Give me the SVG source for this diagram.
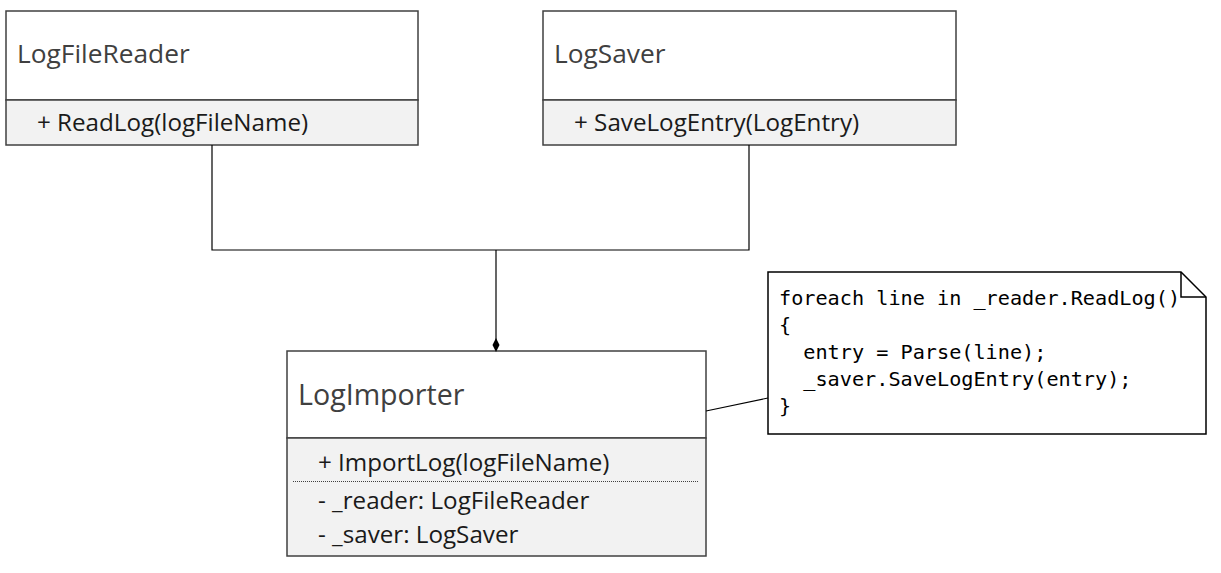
<svg xmlns="http://www.w3.org/2000/svg" width="1221" height="573" viewBox="0 0 1221 573">
<style>
.box{fill:#ffffff;stroke:#404040;stroke-width:1.5}
.comp{fill:#f2f2f2;stroke:#404040;stroke-width:1.5}
.title{font-family:"Open Sans",sans-serif;font-size:26.3px;fill:#404040}
.big{font-size:28.6px}
.member{font-family:"Open Sans",sans-serif;font-size:24.2px;fill:#1a1a1a}
.code{font-family:"DejaVu Sans Mono","Liberation Mono",monospace;font-size:20.2px;fill:#000000}
.conn{fill:none;stroke:#000000;stroke-width:1.2}
</style>
<rect width="1221" height="573" fill="#ffffff"/>
<g id="LogFileReader">
<rect class="box" x="6" y="11" width="412" height="89"/>
<rect class="comp" x="6" y="100" width="412" height="45"/>
<text class="title" x="17" y="63">LogFileReader</text>
<text class="member" x="37" y="131">+ ReadLog(logFileName)</text>
</g>
<g id="LogSaver">
<rect class="box" x="543" y="11" width="413" height="89"/>
<rect class="comp" x="543" y="100" width="413" height="45"/>
<text class="title" x="554" y="63">LogSaver</text>
<text class="member" x="574" y="131">+ SaveLogEntry(LogEntry)</text>
</g>
<g id="LogImporter">
<rect class="box" x="287" y="351" width="419" height="87"/>
<rect class="comp" x="287" y="438" width="419" height="118"/>
<line x1="293" y1="481.5" x2="699" y2="481.5" stroke="#404040" stroke-width="1" stroke-dasharray="1,1"/>
<text class="title big" x="298" y="405">LogImporter</text>
<text class="member" x="318" y="471">+ ImportLog(logFileName)</text>
<text class="member" x="318" y="509">- _reader: LogFileReader</text>
<text class="member" x="318" y="543">- _saver: LogSaver</text>
</g>
<g id="Note">
<path d="M768,272 H1181 L1206,297 V434 H768 Z" fill="#ffffff" stroke="#000000" stroke-width="1.5"/>
<path d="M1181,272 V297 H1206" fill="none" stroke="#000000" stroke-width="1.5"/>
<text class="code" x="779" y="305">foreach line in _reader.ReadLog()</text>
<text class="code" x="779" y="332">{</text>
<text class="code" x="779" y="359" xml:space="preserve">  entry = Parse(line);</text>
<text class="code" x="779" y="386" xml:space="preserve">  _saver.SaveLogEntry(entry);</text>
<text class="code" x="779" y="413">}</text>
</g>
<g id="connectors">
<path class="conn" d="M212,145 V250 H749 V145"/>
<path class="conn" d="M496,250 V340"/>
<path d="M496,338 L499.5,345 L496,352 L492.5,345 Z" fill="#000000"/>
<path class="conn" d="M706,411 L768,398" stroke-width="2"/>
</g>
</svg>
